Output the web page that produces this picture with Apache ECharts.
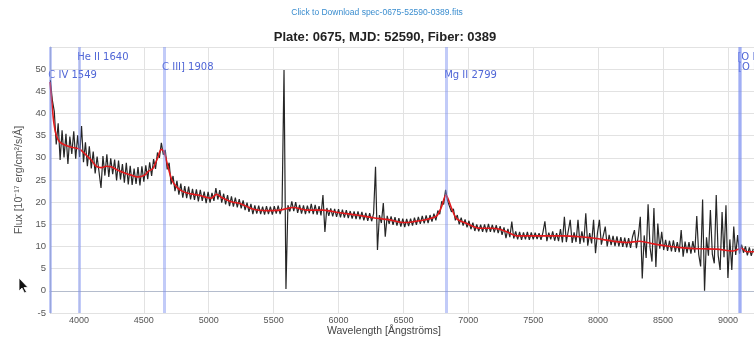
<!DOCTYPE html>
<html><head><meta charset="utf-8">
<script src="https://cdn.jsdelivr.net/npm/echarts@6/dist/echarts.min.js"></script>
<style>html,body{margin:0;padding:0;background:#fff;}#c{width:754px;height:340px;}</style>
</head><body><div id="c"></div>
<script>
const titleText = 'Plate: 0675, MJD: 52590, Fiber: 0389';
const linkText = 'Click to Download spec-0675-52590-0389.fits';
const xName = 'Wavelength [Ångströms]';
const yName = 'Flux [10⁻¹⁷ erg/cm²/s/Å]';
const xTickLabels = [4000,4500,5000,5500,6000,6500,7000,7500,8000,8500,9000];
const yTickLabels = [-5,0,5,10,15,20,25,30,35,40,45,50];

const redshift = 1.44;
const lineNames = ['C IV 1549','He II 1640','C III] 1908','Mg II 2799','[O II] 3725','[O II] 3727'];
const lineRest = [1549,1640,1908,2799,3725,3727];
const lineRow = [2,0,1,2,0,1];

// observed spectrum, sampled every 15 Å from 3780 Å
const specStart = 3780, specStep = 15;
const specFlux = [
47.5,43.0,40.5,33.0,37.8,29.5,36.2,30.1,35.4,28.6,
34.8,30.9,36.0,29.8,35.1,30.2,37.2,29.0,33.5,28.1,
32.6,27.6,31.4,26.5,30.3,29.9,23.2,30.4,26.0,30.8,
25.7,29.9,26.3,29.6,24.9,29.4,25.1,28.6,24.4,28.9,
24.0,28.2,23.9,27.6,24.1,27.9,23.8,28.1,24.6,28.3,
25.2,29.0,25.9,29.7,27.5,31.2,30.0,33.4,30.7,31.8,
27.4,28.9,24.0,25.9,22.5,24.8,21.7,24.2,21.0,23.6,
20.9,23.5,20.6,23.0,20.5,22.9,20.2,22.8,20.3,22.4,
19.8,22.3,19.9,22.1,20.3,23.2,20.6,22.7,19.9,21.9,
19.5,21.6,19.1,21.3,19.0,21.0,18.8,20.7,18.6,20.4,
18.2,19.9,17.8,19.6,17.3,19.3,17.4,19.2,17.3,19.0,
17.2,19.1,17.3,19.0,17.2,19.1,17.4,19.2,17.3,19.0,
49.8,0.4,19.3,17.9,20.2,18.0,20.0,17.6,19.4,17.4,
19.3,17.3,19.2,17.5,19.6,17.3,19.4,17.2,19.1,17.0,
21.6,13.3,18.7,16.9,18.6,16.8,18.5,16.7,18.4,16.6,
18.3,16.5,18.2,16.4,18.0,16.3,17.9,16.2,17.9,16.1,
17.8,15.9,17.6,15.8,17.5,15.7,17.4,28.0,9.2,17.1,
15.3,19.8,12.2,16.9,15.1,16.8,14.9,16.6,14.7,16.4,
14.5,16.3,14.4,16.2,14.6,16.3,14.7,16.5,14.9,16.7,
15.1,16.9,15.2,17.0,15.3,17.1,15.6,17.4,15.9,18.1,
17.3,20.2,19.5,22.8,20.3,20.7,17.8,18.5,15.9,17.1,
15.0,16.5,14.7,16.1,14.3,15.8,13.9,15.4,13.5,15.0,
13.4,14.9,13.3,15.0,13.2,15.1,13.3,14.9,13.2,14.8,
13.0,14.6,12.6,14.3,11.9,14.0,12.1,15.6,11.8,13.4,
11.6,13.3,11.5,13.2,11.6,13.3,11.5,13.2,11.6,13.1,
11.7,13.0,11.5,13.2,15.7,11.2,13.1,11.6,13.4,11.3,
13.0,11.2,13.9,10.9,16.7,11.0,13.5,16.0,10.8,13.2,
11.0,16.0,10.6,13.4,10.9,17.5,10.2,13.0,10.7,16.0,
8.5,13.1,16.0,10.4,10.1,14.5,10.0,12.6,10.3,12.4,
10.1,12.3,10.0,12.1,9.9,12.0,9.8,11.9,9.7,12.2,
13.7,9.6,12.4,16.7,2.8,12.5,7.4,19.5,9.8,6.6,
18.7,5.4,15.2,9.5,13.3,9.2,11.5,9.0,11.3,8.9,
11.4,8.8,11.0,8.7,13.7,7.7,11.1,8.5,11.0,8.4,
11.2,8.6,16.9,8.2,5.5,20.6,0.0,12.1,7.9,18.2,
8.3,6.2,21.6,8.0,4.7,17.8,7.6,19.3,2.9,11.6,
4.7,14.5,8.1,12.6,8.4,10.4,8.6,10.0,8.0,9.8,
7.9,9.5
];

// smooth model (red)
const modelWave = [3777,3792,3807,3825,3851,3890,3941,3992,4018,4056,4095,4133,4172,4210,4249,4300,4352,4403,4455,4506,4532,4570,4609,4634,4655,4686,4716,4750,4788,4840,4917,4968,5019,5061,5096,5173,5250,5343,5446,5549,5651,5754,5882,6011,6139,6267,6396,6498,6575,6679,6756,6794,6827,6871,6910,6987,7089,7166,7243,7320,7372,7475,7603,7731,7860,7988,8116,8220,8322,8425,8528,8656,8784,8913,9041,9106,9144,9201];
const modelFlux = [47.1,42.3,37.8,35.1,33.6,32.9,32.4,32.1,31.7,30.6,29.5,28.1,27.8,28.1,28.0,27.2,26.6,26.1,25.7,26.1,26.9,27.6,30.2,31.9,31.4,28.0,25.0,23.5,22.6,22.0,21.6,21.2,20.9,21.8,21.1,20.1,19.6,18.4,18.1,18.2,18.8,18.2,18.2,17.6,17.1,16.5,16.0,15.4,15.6,16.1,16.9,19.0,21.6,18.6,16.3,15.2,14.1,14.1,13.9,13.0,12.4,12.4,12.4,12.4,12.2,11.8,11.2,10.9,11.2,10.6,10.1,9.7,9.5,9.4,9.0,9.6,8.8,8.8];

const SANS = '"Liberation Sans", Arial, sans-serif';
const chart = echarts.init(document.getElementById('c'), null, {renderer: 'canvas'});
const specData = specFlux.map((v, i) => [specStart + i * specStep, v]);
const modelData = modelWave.map((w, i) => [w, modelFlux[i]]);
const obsLines = lineRest.map(r => r * (1 + redshift));

chart.setOption({
  animation: false,
  backgroundColor: '#fff',
  grid: {left: 50, right: 0, top: 47, bottom: 27, containLabel: false},
  xAxis: {
    type: 'value', min: 3777, max: 9201, splitNumber: 11,
    axisLine: {lineStyle: {color: '#b4bccd'}},
    axisTick: {show: false},
    splitLine: {lineStyle: {color: '#e2e2e2'}},
    axisLabel: {
      color: '#555', fontSize: 9, fontFamily: SANS, margin: 3,
      showMinLabel: false, showMaxLabel: false,
      formatter: v => xTickLabels.indexOf(v) >= 0 ? String(v) : ''
    }
  },
  yAxis: {
    type: 'value', min: -5, max: 55, interval: 5,
    name: yName, nameLocation: 'middle', nameGap: 25,
    nameTextStyle: {color: '#555', fontSize: 10.5, fontFamily: SANS},
    axisLine: {show: true, lineStyle: {color: '#b4bccd'}},
    axisTick: {show: false},
    splitLine: {lineStyle: {color: '#e2e2e2'}},
    axisLabel: {
      color: '#555', fontSize: 9.5, fontFamily: SANS, margin: 4,
      formatter: v => yTickLabels.indexOf(v) >= 0 ? String(v) : ''
    }
  },
  series: [
    {
      type: 'line', data: [], z: 1, silent: true,
      markLine: {
        silent: true, symbol: ['none', 'none'], animation: false,
        label: {show: false},
        lineStyle: {color: 'rgba(120,140,240,0.45)', width: 3, type: 'solid'},
        data: obsLines.map(x => ({xAxis: x}))
      }
    },
    {
      type: 'line', data: specData, z: 2, showSymbol: false, silent: true,
      lineStyle: {color: '#000', width: 1.2, opacity: 0.85}
    },
    {
      type: 'line', data: modelData, z: 3, showSymbol: false, silent: true, smooth: 0.3,
      lineStyle: {color: '#e3191c', width: 1.6}
    }
  ]
});

const rowY = [57, 67, 75];
const g = [
  {type: 'text', x: 377, y: 13, style: {text: linkText, fill: '#3a8dcf', font: '8.5px ' + SANS, textAlign: 'center', textVerticalAlign: 'middle'}},
  {type: 'text', x: 385, y: 37, style: {text: titleText, fill: '#222', font: 'bold 13px ' + SANS, textAlign: 'center', textVerticalAlign: 'middle'}},
  {type: 'text', x: 384, y: 331, style: {text: xName, fill: '#444', font: '10.5px ' + SANS, textAlign: 'center', textVerticalAlign: 'middle'}},
  {type: 'polygon', x: 19, y: 278, shape: {points: [[0,0],[0,13],[3,10],[5.5,15],[7.5,14],[5,9.5],[9,9.5]]}, style: {fill: '#111', stroke: '#fff', lineWidth: 0.8}}
];
lineNames.forEach((n, i) => {
  const px = chart.convertToPixel({xAxisIndex: 0}, obsLines[i]);
  g.push({type: 'text', x: px - 2, y: rowY[lineRow[i]], style: {text: n, fill: '#5066d6', font: '10px "DejaVu Sans", sans-serif', textAlign: 'left', textVerticalAlign: 'middle'}});
});
chart.setOption({graphic: g});
</script>
</body></html>
